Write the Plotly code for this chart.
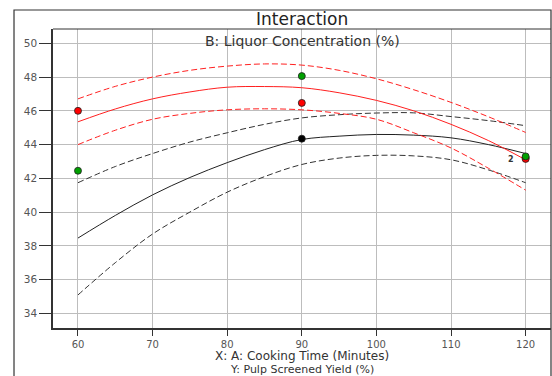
import plotly.graph_objects as go

cook_time = [60, 65, 70, 75, 80, 85, 90, 95, 100, 105, 110, 115, 120]

# High liquor concentration (red): fitted mean and 95% CI band
red_mean = [45.35, 46.11, 46.71, 47.12, 47.40, 47.44, 47.37, 47.07, 46.62, 46.00, 45.20, 44.24, 43.10]
red_upper = [46.71, 47.45, 48.00, 48.40, 48.65, 48.78, 48.71, 48.40, 47.90, 47.25, 46.50, 45.65, 44.72]
red_lower = [44.00, 44.85, 45.50, 45.85, 46.06, 46.12, 46.06, 45.85, 45.50, 44.70, 43.80, 42.60, 41.30]

# Low liquor concentration (black): fitted mean and 95% CI band
blk_mean = [38.46, 39.80, 41.02, 42.05, 42.93, 43.70, 44.30, 44.50, 44.60, 44.56, 44.40, 44.00, 43.47]
blk_upper = [41.74, 42.70, 43.47, 44.15, 44.70, 45.20, 45.58, 45.77, 45.87, 45.88, 45.66, 45.42, 45.12]
blk_lower = [35.09, 37.00, 38.70, 40.00, 41.18, 42.10, 42.82, 43.20, 43.36, 43.33, 43.10, 42.50, 41.74]

# Design points
green_x = [60, 90, 120]
green_y = [42.45, 48.06, 43.30]
red_x = [60, 90, 120]
red_y = [46.00, 46.47, 43.15]
black_x = [90, 120]
black_y = [44.35, 43.22]

x_ticks = [60, 70, 80, 90, 100, 110, 120]
y_ticks = [34, 36, 38, 40, 42, 44, 46, 48, 50]

FONT = "DejaVu Sans"
fig = go.Figure()

def curve(y, color, dash):
    fig.add_trace(go.Scatter(x=cook_time, y=y, mode="lines",
                             line=dict(color=color, width=1, dash=dash, shape="spline"),
                             hoverinfo="skip", showlegend=False))

curve(blk_upper, "#333333", "6px,3px")
curve(blk_lower, "#333333", "6px,3px")
curve(blk_mean, "#222222", "solid")
curve(red_upper, "#ff2020", "6px,3px")
curve(red_lower, "#ff2020", "6px,3px")
curve(red_mean, "#ff2020", "solid")

def pts(x, y, color):
    fig.add_trace(go.Scatter(x=x, y=y, mode="markers",
                             marker=dict(color=color, size=7, line=dict(color="#202020", width=0.8)),
                             showlegend=False))

pts(black_x, black_y, "#000000")
pts(red_x, red_y, "#ff0000")
pts(green_x, green_y, "#00a000")

fig.add_annotation(x=118.1, y=43.1, xref="x", yref="y", text="<b>2</b>", showarrow=False,
                   font=dict(family=FONT, size=8, color="#333333"))

# titles
fig.add_annotation(x=0.5, y=1.0318, xref="paper", yref="paper", text="Interaction",
                   showarrow=False, font=dict(family=FONT, size=17, color="#222222"),
                   xanchor="center", yanchor="middle")
fig.add_annotation(x=0.5, y=0.96, xref="paper", yref="paper", text="B: Liquor Concentration (%)",
                   showarrow=False, font=dict(family=FONT, size=14, color="#333333"),
                   xanchor="center", yanchor="middle")
fig.add_annotation(x=0.5, y=-0.0936, xref="paper", yref="paper", text="X: A: Cooking Time (Minutes)",
                   showarrow=False, font=dict(family=FONT, size=12, color="#333333"),
                   xanchor="center", yanchor="middle")
fig.add_annotation(x=0.5, y=-0.1388, xref="paper", yref="paper", text="Y: Pulp Screened Yield (%)",
                   showarrow=False, font=dict(family=FONT, size=11, color="#333333"),
                   xanchor="center", yanchor="middle")

# outer frame
fig.add_shape(type="rect", xref="paper", yref="paper", x0=-0.0783, x1=1.0, y0=-0.2, y1=1.0635,
              line=dict(color="#333333", width=1.2), layer="above")
# plot top border
fig.add_shape(type="line", xref="paper", yref="paper", x0=0, x1=1, y0=1, y1=1,
              line=dict(color="#333333", width=1), layer="above")

fig.update_xaxes(range=[56.65, 123.4], tickvals=x_ticks, ticks="outside", ticklen=6,
                 tickcolor="#333333", showgrid=True, gridcolor="#bdbdbd", gridwidth=1,
                 showline=True, linecolor="#333333", linewidth=1.5, zeroline=False,
                 tickfont=dict(family=FONT, size=10, color="#555555"))
fig.update_yaxes(range=[33.13, 50.85], tickvals=y_ticks, ticks="outside", ticklen=12,
                 tickcolor="#333333", showgrid=True, gridcolor="#bdbdbd", gridwidth=1,
                 showline=True, linecolor="#333333", linewidth=1.5, zeroline=False,
                 tickfont=dict(family=FONT, size=10.5, color="#555555"))

fig.update_layout(width=552, height=376, margin=dict(l=53, r=1, t=29, b=48),
                  plot_bgcolor="white", paper_bgcolor="white", showlegend=False)

fig.write_html("out.html")
